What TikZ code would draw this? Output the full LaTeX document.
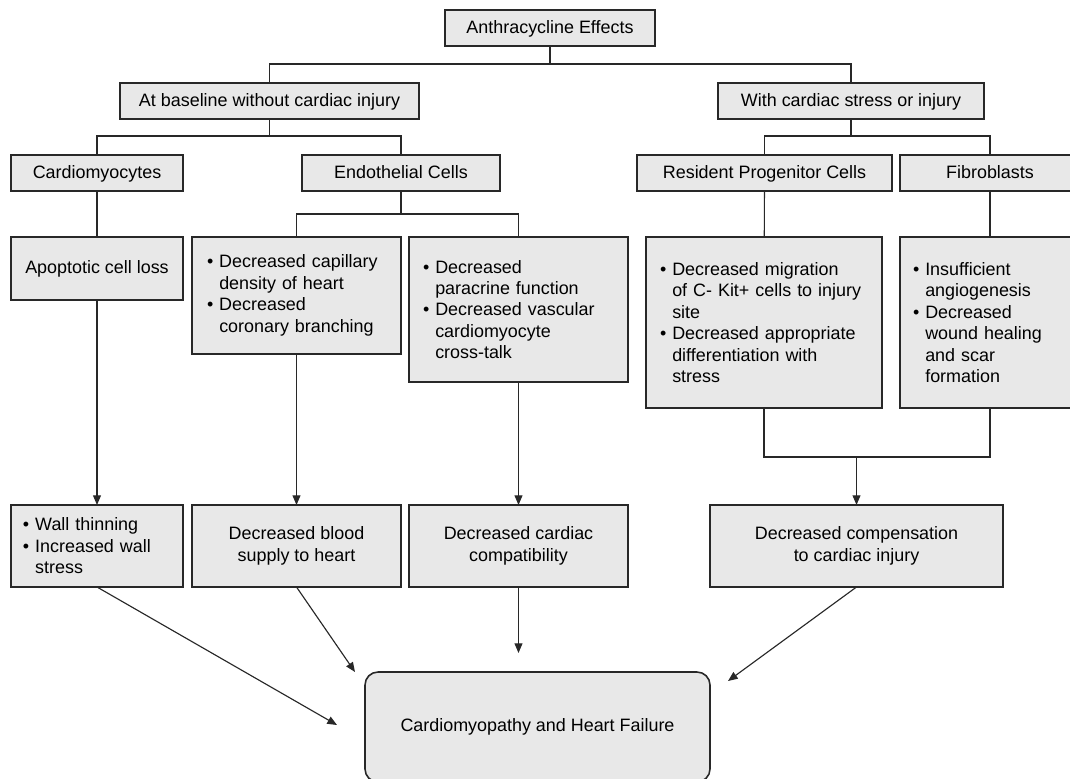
\documentclass[tikz,border=0pt]{standalone}
\usepackage{fontspec}
\setmainfont{Liberation Sans}
\usetikzlibrary{arrows.meta}
\newcommand{\bitem}{\textbullet\ }
\newcommand{\bcont}{\phantom{\textbullet\ }}
\definecolor{boxfill}{RGB}{232,232,232}
\definecolor{boxline}{RGB}{40,40,40}
\begin{document}
\begin{tikzpicture}[inner sep=0pt,outer sep=0pt,line width=0.65pt,draw=boxline,
>={Triangle[length=5.5pt,width=4.5pt]},
font=\fontsize{10.2}{12.2}\selectfont,
effblock/.style={draw=boxline,fill=boxfill,rectangle,line width=0.9pt,minimum height=0.72cm,text height=1.6ex,text depth=0.45ex},
textblock/.style={draw=boxline,fill=boxfill,rectangle,line width=0.9pt,align=center},
listblock/.style={draw=boxline,fill=boxfill,rectangle,line width=0.9pt,align=left},
endblock/.style={draw=boxline,fill=boxfill,rectangle,rounded corners=0.26cm,line width=0.9pt,minimum width=6.9cm,minimum height=2.2cm}]
\useasboundingbox (0,0) rectangle (21.4,-15.56);
\clip (0,0) rectangle (21.4,-15.56);
% top levels
\draw (11.0,-0.56) node[effblock,minimum width=4.2cm] (eff) {Anthracycline Effects};
\draw (5.39,-2.02) node[effblock,minimum width=5.98cm] (base) {At baseline without cardiac injury};
\draw (17.02,-2.02) node[effblock,minimum width=5.32cm] (stress) {With cardiac stress or injury};
\draw (1.94,-3.46) node[effblock,minimum width=3.44cm] (cardio) {Cardiomyocytes};
\draw (8.02,-3.46) node[effblock,minimum width=3.96cm] (endo) {Endothelial Cells};
\draw (15.29,-3.46) node[effblock,minimum width=5.1cm] (resid) {Resident Progenitor Cells};
\draw (19.8,-3.46) node[effblock,minimum width=3.6cm] (fibro) {Fibroblasts};
% effects per cell type
\draw (1.94,-5.37) node[effblock,minimum width=3.44cm,minimum height=1.26cm] (apop) {Apoptotic cell loss};
\draw (5.93,-5.91) node[listblock,minimum width=4.18cm,minimum height=2.34cm,text width=3.58cm] (capil)
  {\bitem Decreased capillary\\\bcont density of heart\\\bitem Decreased\\\bcont coronary branching};
\draw (10.37,-6.19) node[listblock,minimum width=4.38cm,minimum height=2.9cm,text width=3.82cm] (parac)
  {\bitem Decreased\\\bcont paracrine function\\\bitem Decreased vascular\\\bcont cardiomyocyte\\\bcont cross-talk};
\draw (15.28,-6.45) node[listblock,minimum width=4.72cm,minimum height=3.42cm,text width=4.16cm] (migr)
  {\bitem Decreased migration\\\bcont of C- Kit+ cells to injury\\\bcont site\\\bitem Decreased appropriate\\\bcont differentiation with\\\bcont stress};
\draw (19.8,-6.45) node[listblock,minimum width=3.6cm,minimum height=3.42cm,text width=3.08cm] (fibeff)
  {\bitem Insufficient\\\bcont angiogenesis\\\bitem Decreased\\\bcont wound healing\\\bcont and scar\\\bcont formation};
% consequences
\draw (1.94,-10.92) node[listblock,minimum width=3.44cm,minimum height=1.64cm,text width=2.96cm] (wall)
  {\bitem Wall thinning\\\bitem Increased wall\\\bcont stress};
\draw (5.93,-10.92) node[textblock,minimum width=4.18cm,minimum height=1.64cm] (blood) {Decreased blood\\supply to heart};
\draw (10.37,-10.92) node[textblock,minimum width=4.38cm,minimum height=1.64cm] (compat) {Decreased cardiac\\compatibility};
\draw (17.13,-10.92) node[textblock,minimum width=5.86cm,minimum height=1.64cm] (comp) {Decreased compensation\\to cardiac injury};
\draw (10.75,-14.54) node[endblock] (hf) {Cardiomyopathy and Heart Failure};
% tree lines
\draw (eff.south) -- ++(0,-0.36) -| (base.north);
\draw (eff.south) -- ++(0,-0.36) -| (stress.north);
\draw (base.south) -- ++(0,-0.34) -| (cardio.north);
\draw (base.south) -- ++(0,-0.34) -| (endo.north);
\draw (stress.south) -- ++(0,-0.34) -| (resid.north);
\draw (stress.south) -- ++(0,-0.34) -| (fibro.north);
\draw (endo.south) -- ++(0,-0.46) -| (capil.north);
\draw (endo.south) -- ++(0,-0.46) -| (parac.north);
\draw (cardio) -- (apop);
\draw (resid) -- (migr);
\draw (fibro) -- (fibeff);
\draw (migr.south) -- ++(0,-0.98) coordinate (teeL) -| (fibeff.south);
% arrows
\draw[->] (apop) -- (wall);
\draw[->] (capil) -- (blood);
\draw[->] (parac) -- (compat);
\draw[->] (teeL -| comp.north) -- (comp.north);
\coordinate (hfA) at (6.74,-14.5);
\coordinate (hfB) at (7.1,-13.44);
\coordinate (hfC) at (10.37,-13.06);
\coordinate (hfD) at (14.56,-13.62);
\draw[->] (wall.south) -- (hfA);
\draw[->] (blood.south) -- (hfB);
\draw[->] (compat.south) -- (hfC);
\draw[->] (comp.south) -- (hfD);
\end{tikzpicture}
\end{document}
